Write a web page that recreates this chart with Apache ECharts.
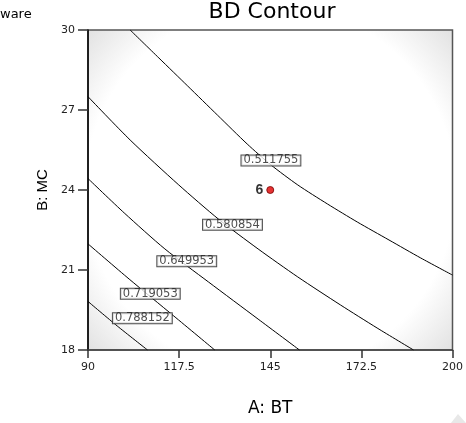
<!DOCTYPE html>
<html>
<head>
<meta charset="utf-8">
<script src="https://cdn.jsdelivr.net/npm/echarts@6/dist/echarts.min.js"></script>
<style>html,body{margin:0;padding:0;background:#fff;}#c{width:466px;height:423px;}</style>
</head>
<body>
<div id="c"></div>
<script>
// ---- data ----
const xTicks = [90, 117.5, 145, 172.5, 200];
const contourLevels = ['0.511755', '0.580854', '0.649953', '0.719053', '0.788152'];
const contour1 = [[102.72, 30], [111.40, 28.95], [120.08, 27.90], [129.06, 26.81], [138.04, 25.725], [145.22, 24.94], [153.30, 24.19], [162.28, 23.475], [171.26, 22.80], [180.84, 22.125], [190.42, 21.45], [200, 20.81]];
const contour2 = [[90, 27.5], [102.72, 25.875], [117.39, 24.19], [129.36, 22.91], [141.33, 21.79], [153.30, 20.74], [166.18, 19.69], [177.25, 18.825], [188.24, 18]];
const contour3 = [[90, 24.43], [100.93, 23.14], [113.20, 21.79], [126.37, 20.55], [141.33, 19.16], [153.82, 18]];
const contour4 = [[90, 21.98], [102.42, 20.66], [115.89, 19.275], [128.25, 18]];
const contour5 = [[90, 19.82], [98.83, 18.9], [107.96, 18]];
const labelX = [145.2, 133.6, 119.8, 108.8, 106.4];
const labelY = [25.11, 22.70, 21.33, 20.11, 19.19];
const designX = [145];
const designY = [24];
const designRun = ['6'];

const FONT = '"Liberation Sans", Arial, sans-serif';
const WIDE = '"DejaVu Sans", sans-serif';
const contours = [contour1, contour2, contour3, contour4, contour5];

const chart = echarts.init(document.getElementById('c'), null, {renderer: 'canvas'});
const series = contours.map((c, i) => ({
  name: contourLevels[i],
  type: 'line',
  data: c,
  symbol: 'none',
  smooth: 0.25,
  lineStyle: {color: '#000', width: 1},
  z: 2,
  silent: true
}));
series.push({
  type: 'scatter',
  data: labelX.map((x, i) => [x, labelY[i], contourLevels[i]]),
  symbolSize: 0,
  z: 5,
  label: {
    show: true,
    position: 'inside',
    formatter: p => p.data[2],
    fontFamily: WIDE,
    fontSize: 11.5,
    lineHeight: 10,
    color: '#222',
    backgroundColor: '#fff',
    borderColor: '#222',
    borderWidth: 1,
    padding: [0, 2, 0, 2]
  }
});
series.push({
  type: 'scatter',
  data: designX.map((x, i) => [x, designY[i], designRun[i]]),
  symbol: 'circle',
  symbolSize: 7,
  itemStyle: {color: '#e00000', borderColor: '#700', borderWidth: 1},
  z: 6,
  label: {
    show: true,
    position: 'left',
    distance: 3,
    formatter: p => p.data[2],
    fontFamily: FONT,
    fontSize: 14,
    fontWeight: 'bold',
    color: '#000'
  }
});

chart.setOption({
  animation: false,
  backgroundColor: '#fff',
  title: {
    text: 'BD Contour',
    left: 272,
    top: 1,
    padding: 0,
    textAlign: 'center',
    textStyle: {fontFamily: WIDE, fontSize: 22, fontWeight: 'normal', color: '#000'}
  },
  graphic: [
    {type: 'text', x: 0, y: 8, style: {text: 'ware', fontFamily: WIDE, fontSize: 13, fill: '#000'}},
    {type: 'polygon', shape: {points: [[451, 423], [458, 414], [466, 423]]}, style: {fill: '#e8e8e8'}}
  ],
  grid: {
    left: 88, top: 30, width: 368, height: 320,
    show: true,
    borderColor: '#555',
    borderWidth: 1.5,
    backgroundColor: new echarts.graphic.RadialGradient(0.5, 0.5, 0.8, [
      {offset: 0, color: '#ffffff'},
      {offset: 0.72, color: '#ffffff'},
      {offset: 1, color: '#dadada'}
    ])
  },
  xAxis: {
    type: 'value',
    min: 90, max: 200,
    name: 'A: BT',
    nameLocation: 'middle',
    nameGap: 50,
    nameTextStyle: {fontFamily: WIDE, fontSize: 17, color: '#000'},
    axisLine: {show: true, lineStyle: {color: '#444', width: 1.5}},
    axisTick: {show: true, customValues: xTicks, length: 8, lineStyle: {color: '#333', width: 1.5}},
    axisLabel: {customValues: xTicks, margin: 12, fontFamily: WIDE, fontSize: 11, color: '#222', formatter: v => String(v)},
    splitLine: {show: false}
  },
  yAxis: {
    type: 'value',
    min: 18, max: 30, interval: 3,
    name: 'B: MC',
    nameLocation: 'middle',
    nameRotate: 90,
    nameGap: 38,
    nameTextStyle: {fontFamily: FONT, fontSize: 15, color: '#000'},
    axisLine: {show: true, lineStyle: {color: '#000', width: 1.5}},
    axisTick: {show: true, length: 10, lineStyle: {color: '#333', width: 1.5}},
    axisLabel: {margin: 13, fontFamily: WIDE, fontSize: 11, color: '#222'},
    splitLine: {show: false}
  },
  series: series
});
</script>
</body>
</html>
